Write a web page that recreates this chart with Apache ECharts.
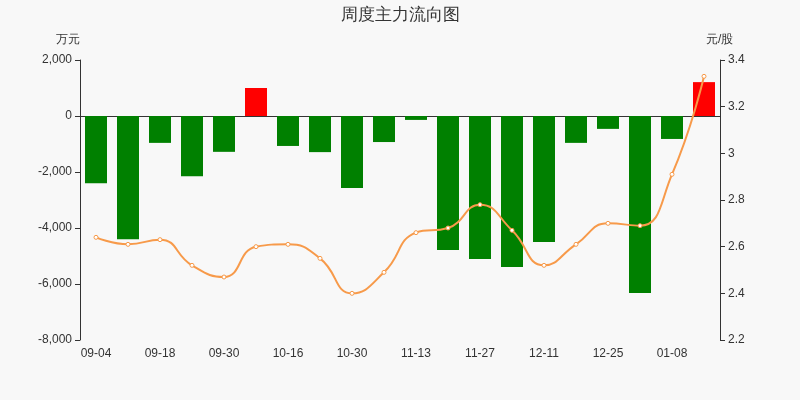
<!DOCTYPE html>
<html>
<head>
<meta charset="utf-8">
<script src="https://cdn.jsdelivr.net/npm/echarts@6/dist/echarts.min.js"></script>
<style>html,body{margin:0;background:#f8f8f8}#main{width:800px;height:400px}</style>
</head>
<body>
<div id="main"></div>
<script>
var weeks = ['09-04','09-11','09-18','09-25','09-30','10-09','10-16','10-23','10-30','11-06',
             '11-13','11-20','11-27','12-04','12-11','12-18','12-25','01-01','01-08','01-15'];
var flows = [-2400,-4400,-960,-2150,-1280,1000,-1070,-1290,-2570,-930,
             -140,-4790,-5110,-5390,-4500,-960,-460,-6320,-820,1210];
var prices = [2.64,2.61,2.63,2.52,2.47,2.60,2.61,2.55,2.40,2.49,
              2.66,2.68,2.78,2.67,2.52,2.61,2.70,2.69,2.91,3.33];

var myChart = echarts.init(document.getElementById('main'));
var option = {
    backgroundColor: '#f8f8f8',
    title: {
        text: '周度主力流向图',
        left: 'center',
        top: 2,
        textStyle: { fontSize: 17, fontWeight: 'normal', color: '#333' }
    },
    grid: { left: 80, right: 80, top: 60, bottom: 60 },
    xAxis: {
        type: 'category',
        data: weeks,
        axisTick: { show: false },
        axisLine: { lineStyle: { color: '#333' } },
        axisLabel: { interval: 1, color: '#333', fontSize: 12 }
    },
    yAxis: [
        {
            type: 'value',
            name: '万元',
            nameGap: 14,
            nameTextStyle: { color: '#333', align: 'right' },
            min: -8000, max: 2000, interval: 2000,
            splitLine: { show: false },
            axisLine: { show: true, lineStyle: { color: '#333' } },
            axisTick: { show: true },
            axisLabel: { color: '#333', formatter: function (v) { return v.toLocaleString('en-US'); } }
        },
        {
            type: 'value',
            name: '元/股',
            nameGap: 14,
            nameTextStyle: { color: '#333', align: 'left', padding: [0, 0, 0, -14] },
            min: 2.2, max: 3.4, interval: 0.2,
            splitLine: { show: false },
            axisLine: { show: true, lineStyle: { color: '#333' } },
            axisTick: { show: true },
            axisLabel: { color: '#333', formatter: function (v) { return +v.toFixed(1); } }
        }
    ],
    series: [
        {
            type: 'bar',
            data: flows,
            barWidth: 22,
            itemStyle: {
                color: function (p) { return p.value >= 0 ? '#ff0000' : '#008000'; }
            }
        },
        {
            type: 'line',
            yAxisIndex: 1,
            data: prices,
            smooth: true,
            symbol: 'circle',
            symbolSize: 4,
            lineStyle: { color: '#f79a4a', width: 2 },
            itemStyle: { color: '#fff', borderColor: '#f79a4a', borderWidth: 1 }
        }
    ]
};
option && myChart.setOption(option);
</script>
</body>
</html>
